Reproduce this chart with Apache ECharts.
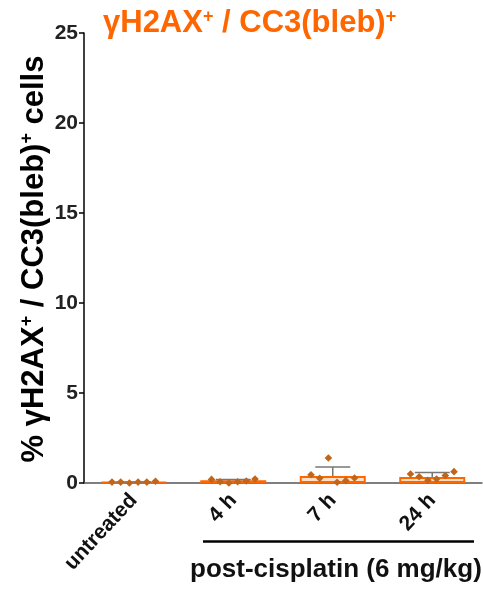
<!DOCTYPE html>
<html>
<head>
<meta charset="utf-8">
<script src="https://cdn.jsdelivr.net/npm/echarts@6/dist/echarts.min.js"></script>
<style>
html,body{margin:0;padding:0;background:#fff;}
#chart{width:483px;height:589px;}
</style>
</head>
<body>
<div id="chart"></div>
<script>
// data
var categories = ['untreated', '4 h', '7 h', '24 h'];
var means = [0.05, 0.15, 0.39, 0.33];
var errUpper = [0.05, 0.2, 0.89, 0.58];
var pts_untreated = [0.05, 0.05, 0.0, 0.05, 0.05, 0.1];
var pts_4h = [0.2, 0.07, 0.0, 0.07, 0.11, 0.22];
var pts_7h = [0.46, 0.26, 1.39, 0.04, 0.13, 0.28];
var pts_24h = [0.5, 0.35, 0.15, 0.22, 0.41, 0.63];
var yTicks = [0, 5, 10, 15, 20, 25];

var orange = '#ff6600';
var dotColor = '#c0651a';
var font = 'Liberation Sans';

var groups = [pts_untreated, pts_4h, pts_7h, pts_24h];
var pointData = [];
groups.forEach(function(g, ci){
	g.forEach(function(v, j){
		pointData.push([ci, v, j, g.length]);
	});
});
var errData = categories.map(function(c, i){ return [i, means[i], errUpper[i]]; });

function richSup(color, big, small){
	return {
		a: {fontFamily: font, fontWeight: 'bold', fontSize: big, color: color},
		s: {fontFamily: font, fontWeight: 'bold', fontSize: small, color: color, verticalAlign: 'top', padding: [0, 0, 10, 0]}
	};
}

var myChart = echarts.init(document.getElementById('chart'));
var option = {
	animation: false,
	title: {
		text: '{a|γH2AX}{s|+}{a| / CC3(bleb)}{s|+}',
		left: 98,
		top: 3,
		textStyle: {rich: richSup(orange, 31, 18)}
	},
	grid: {left: 84, top: 33, width: 398, height: 450, containLabel: false},
	xAxis: {
		type: 'category',
		data: categories,
		axisLine: {lineStyle: {color: '#555', width: 1.5}},
		axisTick: {alignWithLabel: true, length: 5, lineStyle: {color: '#555', width: 1.5}},
		axisLabel: {
			rotate: 47,
			margin: 14,
			fontFamily: font,
			fontWeight: 'bold',
			fontSize: 21,
			color: '#111'
		}
	},
	yAxis: {
		type: 'value',
		min: 0,
		max: 25,
		interval: 5,
		splitLine: {show: false},
		axisLine: {show: true, lineStyle: {color: '#000', width: 1.5}},
		axisTick: {show: true, length: 5, lineStyle: {color: '#000', width: 1.5}},
		axisLabel: {
			fontFamily: font,
			fontWeight: 'bold',
			fontSize: 21,
			color: '#222',
			margin: 6,
			formatter: function(v){ return yTicks.indexOf(v) >= 0 ? String(v) : ''; }
		}
	},
	series: [
		{
			type: 'bar',
			data: means,
			barWidth: 66,
			itemStyle: {color: '#fde0c6', borderColor: orange, borderWidth: 2},
			z: 2
		},
		{
			type: 'custom',
			data: errData,
			z: 3,
			renderItem: function(params, api){
				var base = api.coord([api.value(0), api.value(1)]);
				var top = api.coord([api.value(0), api.value(2)]);
				var half = 17.5;
				return {
					type: 'group',
					children: [
						{type: 'line', shape: {x1: base[0], y1: base[1], x2: top[0], y2: top[1]}, style: {stroke: '#777', lineWidth: 1.5}},
						{type: 'line', shape: {x1: top[0] - half, y1: top[1], x2: top[0] + half, y2: top[1]}, style: {stroke: '#777', lineWidth: 1.5}}
					]
				};
			}
		},
		{
			type: 'custom',
			data: pointData,
			z: 4,
			renderItem: function(params, api){
				var p = api.coord([api.value(0), api.value(1)]);
				var j = api.value(2), n = api.value(3);
				var x = p[0] + (j - (n - 1) / 2) * 8.7;
				var y = p[1];
				var r = 3.8;
				return {
					type: 'polygon',
					shape: {points: [[x, y - r], [x + r, y], [x, y + r], [x - r, y]]},
					style: {fill: dotColor}
				};
			}
		}
	],
	graphic: [
		{
			type: 'text',
			x: 34,
			y: 259,
			rotation: Math.PI / 2,
			style: {
				text: '{a|% γH2AX}{s|+}{a| / CC3(bleb)}{s|+}{a| cells}',
				rich: richSup('#000', 31, 18),
				align: 'center',
				verticalAlign: 'middle'
			}
		},
		{type: 'line', shape: {x1: 203, y1: 541.5, x2: 474, y2: 541.5}, style: {stroke: '#000', lineWidth: 2.5}},
		{type: 'text', left: 190, top: 557, style: {text: 'post-cisplatin (6 mg/kg)', font: 'bold 26px "Liberation Sans"', fill: '#111'}}
	]
};
myChart.setOption(option);
</script>
</body>
</html>
